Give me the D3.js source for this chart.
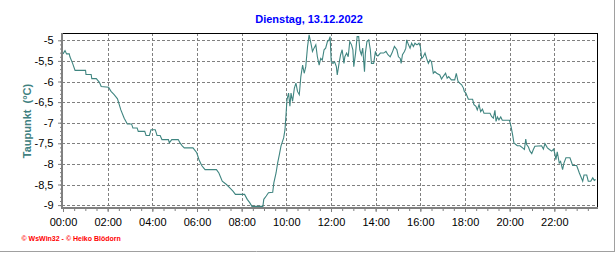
<!DOCTYPE html>
<html><head><meta charset="utf-8">
<script src="https://cdn.jsdelivr.net/npm/d3@7"></script>
<style>
html,body{margin:0;padding:0;background:#fff;}
svg{display:block;}
</style></head>
<body>
<svg id="c" width="616" height="253"></svg>
<script>
const title = "Dienstag, 13.12.2022";
const yLabel = "Taupunkt  (°C)";
const footer = "© WsWin32 - © Heiko Blödorn";
const xTickHours = [0,2,4,6,8,10,12,14,16,18,20,22];
const xTickLabels = ["00:00","02:00","04:00","06:00","08:00","10:00","12:00","14:00","16:00","18:00","20:00","22:00"];
const yTickValues = [-9,-8.5,-8,-7.5,-7,-6.5,-6,-5.5,-5];
const yTickLabels = ["-9","-8,5","-8","-7,5","-7","-6,5","-6","-5,5","-5"];
const hours = [0.00,0.09,0.16,0.28,0.31,0.43,0.54,1.01,1.03,1.26,1.29,1.49,1.63,1.71,2.04,2.15,2.29,2.44,2.59,2.74,2.88,3.07,3.13,3.32,3.37,3.66,3.72,3.87,3.94,4.13,4.21,4.35,4.43,4.72,4.76,4.87,5.16,5.24,5.34,5.43,5.82,5.99,6.09,6.21,6.36,6.87,6.98,7.13,7.32,7.47,7.61,7.72,8.13,8.25,8.36,8.46,8.95,8.99,9.10,9.20,9.39,9.44,9.54,9.61,9.69,9.76,9.88,9.94,9.99,10.03,10.10,10.16,10.21,10.28,10.36,10.43,10.50,10.58,10.65,10.73,10.80,10.87,10.95,11.02,11.10,11.17,11.24,11.32,11.39,11.47,11.54,11.61,11.69,11.76,11.84,11.91,11.96,12.01,12.09,12.16,12.24,12.28,12.36,12.43,12.50,12.58,12.62,12.70,12.77,12.84,12.92,12.98,13.02,13.10,13.17,13.24,13.29,13.36,13.42,13.50,13.54,13.61,13.69,13.76,13.81,13.91,13.99,14.03,14.10,14.21,14.36,14.46,14.55,14.65,14.73,14.84,14.95,15.02,15.10,15.14,15.20,15.29,15.35,15.39,15.47,15.54,15.61,15.69,15.76,15.85,15.94,16.00,16.06,16.13,16.21,16.28,16.36,16.43,16.50,16.58,16.65,16.73,16.87,16.95,17.02,17.13,17.20,17.27,17.39,17.54,17.61,17.69,17.76,17.85,17.93,17.97,18.04,18.15,18.34,18.40,18.49,18.55,18.63,18.70,18.78,18.85,19.12,19.19,19.27,19.34,19.39,19.45,19.52,19.60,19.67,19.99,20.06,20.13,20.19,20.34,20.46,20.58,20.66,20.72,20.76,20.84,20.91,20.99,21.06,21.13,21.43,21.51,21.58,21.69,21.78,21.88,21.97,22.03,22.07,22.13,22.22,22.28,22.37,22.43,22.52,22.70,22.82,23.00,23.12,23.18,23.27,23.33,23.45,23.52,23.63,23.72,23.79,23.85];
const dewpoint = [-5.33,-5.25,-5.33,-5.33,-5.40,-5.56,-5.73,-5.73,-5.83,-5.83,-5.93,-5.93,-6.02,-6.12,-6.14,-6.24,-6.32,-6.42,-6.69,-6.89,-7.03,-7.03,-7.13,-7.13,-7.21,-7.21,-7.31,-7.31,-7.17,-7.17,-7.31,-7.31,-7.41,-7.41,-7.49,-7.41,-7.41,-7.49,-7.56,-7.61,-7.61,-7.73,-7.90,-8.04,-8.14,-8.14,-8.22,-8.42,-8.50,-8.58,-8.66,-8.74,-8.74,-8.86,-8.94,-9.03,-9.03,-8.86,-8.78,-8.70,-8.69,-8.46,-8.22,-7.98,-7.77,-7.57,-7.37,-7.17,-6.77,-6.44,-6.28,-6.60,-6.28,-6.48,-6.16,-6.04,-6.24,-6.32,-5.88,-5.60,-5.80,-5.64,-5.15,-4.87,-5.07,-5.27,-5.19,-5.11,-5.40,-5.60,-5.44,-5.48,-5.23,-5.19,-5.03,-4.99,-4.91,-5.52,-5.56,-5.52,-5.64,-5.84,-5.56,-5.35,-5.23,-5.56,-5.40,-5.31,-5.40,-5.03,-5.11,-5.23,-5.64,-5.31,-4.91,-4.91,-5.23,-5.35,-5.19,-5.76,-5.31,-5.03,-4.99,-5.23,-5.56,-5.56,-5.27,-5.35,-5.38,-5.31,-5.31,-5.27,-5.35,-5.40,-5.31,-5.15,-5.23,-5.40,-5.44,-5.56,-5.35,-5.27,-5.19,-4.99,-5.11,-5.19,-5.07,-5.15,-5.07,-5.11,-5.07,-5.15,-5.44,-5.40,-5.31,-5.44,-5.56,-5.48,-5.52,-5.80,-5.76,-5.80,-5.84,-5.94,-5.88,-5.80,-5.92,-5.88,-5.96,-5.96,-5.80,-6.00,-6.04,-6.08,-6.16,-6.24,-6.28,-6.43,-6.43,-6.56,-6.60,-6.69,-6.56,-6.73,-6.67,-6.77,-6.77,-6.85,-6.89,-6.70,-6.97,-6.86,-6.93,-6.86,-6.94,-6.94,-7.09,-7.29,-7.49,-7.56,-7.56,-7.61,-7.65,-7.40,-7.53,-7.59,-7.69,-7.75,-7.65,-7.57,-7.56,-7.64,-7.51,-7.61,-7.65,-7.69,-7.64,-7.77,-7.90,-7.71,-7.98,-7.94,-8.14,-7.98,-7.85,-7.85,-8.04,-8.04,-8.22,-8.30,-8.42,-8.27,-8.27,-8.42,-8.42,-8.34,-8.40,-8.38];

const svg = d3.select("#c");
const font = "'Liberation Sans', Arial, sans-serif";
const L = 62, R = 597, T = 33, B = 208;
const x = d3.scaleLinear().domain([0, 24]).range([63, 599]);
const y = d3.scaleLinear().domain([-9, -5]).range([205.1, 40.3]);
const gridCol = "#808080", axisCol = "#808080", lineCol = "#3f8580";

// outer frame edges
svg.append("line").attr("x1",0).attr("x2",615).attr("y1",251.5).attr("y2",251.5).attr("stroke","#a0a0a0");
svg.append("line").attr("x1",614.5).attr("x2",614.5).attr("y1",0).attr("y2",252).attr("stroke","#a0a0a0");

// grid
const g = svg.append("g");
g.selectAll("line.h").data(yTickValues).join("line")
  .attr("x1", L).attr("x2", R)
  .attr("y1", d => Math.round(y(d)) + 0.5).attr("y2", d => Math.round(y(d)) + 0.5)
  .attr("stroke", gridCol).attr("stroke-dasharray", "3,2");
g.selectAll("line.v").data(xTickHours.slice(1)).join("line")
  .attr("x1", d => Math.round(x(d)) + 0.5).attr("x2", d => Math.round(x(d)) + 0.5)
  .attr("y1", T).attr("y2", B)
  .attr("stroke", gridCol).attr("stroke-dasharray", "3,2");

// data line
svg.append("defs").append("clipPath").attr("id","clip")
  .append("rect").attr("x", L).attr("y", T).attr("width", R - L).attr("height", B - T);
const pts = hours.map((h, i) => [h, dewpoint[i]]);
svg.append("path").datum(pts)
  .attr("clip-path","url(#clip)")
  .attr("d", d3.line().x(d => x(d[0])).y(d => y(d[1])))
  .attr("fill","none").attr("stroke", lineCol).attr("stroke-width", 1.1);

// frame top & right
svg.append("line").attr("x1", L).attr("x2", R + 0.5).attr("y1", T + 0.5).attr("y2", T + 0.5).attr("stroke", "#000");
svg.append("line").attr("x1", R + 0.5).attr("x2", R + 0.5).attr("y1", T).attr("y2", B).attr("stroke", "#000");

// axes
function styleAxis(sel) {
  sel.select(".domain").remove();
  sel.selectAll(".tick line").attr("stroke", axisCol);
  sel.selectAll("text").attr("font-family", font).attr("font-size", "11px").attr("fill", "#000");
}
const xMinor = d3.range(0, 24, 0.5);
svg.append("g").attr("transform", `translate(0,${B})`)
  .call(d3.axisBottom(x).tickValues(xMinor).tickSize(3).tickFormat(""))
  .call(styleAxis);
svg.append("g").attr("transform", `translate(0,${B})`)
  .call(d3.axisBottom(x).tickValues(xTickHours).tickSize(4).tickPadding(6)
    .tickFormat((d, i) => xTickLabels[i]))
  .call(styleAxis);

const yMinor = d3.range(-9, -4.95, 0.1);
svg.append("g").attr("transform", `translate(${L},0)`)
  .call(d3.axisLeft(y).tickValues(yMinor).tickSize(2).tickFormat(""))
  .call(styleAxis);
svg.append("g").attr("transform", `translate(${L},0)`)
  .call(d3.axisLeft(y).tickValues(yTickValues).tickSize(4).tickPadding(4.5)
    .tickFormat((d, i) => yTickLabels[i]))
  .call(styleAxis);

svg.append("line").attr("x1", L).attr("x2", R + 1).attr("y1", B).attr("y2", B)
  .attr("stroke", axisCol).attr("stroke-width", 2);
svg.append("line").attr("x1", L).attr("x2", L).attr("y1", T).attr("y2", B + 1)
  .attr("stroke", axisCol).attr("stroke-width", 2);

// texts
svg.append("text").attr("x", 309).attr("y", 22.5).attr("text-anchor","middle")
  .attr("font-family", font).attr("font-size","11px").attr("font-weight","bold")
  .attr("fill","#0000ff").text(title);
svg.append("text").attr("transform","translate(31,121) rotate(-90)").attr("text-anchor","middle")
  .attr("font-family", font).attr("font-size","11px").attr("font-weight","bold")
  .attr("fill","#408080").attr("xml:space","preserve").style("white-space","pre").text(yLabel);
svg.append("text").attr("x", 21.5).attr("y", 240.5)
  .attr("font-family", font).attr("font-size","7px").attr("font-weight","bold")
  .attr("fill","#ff0000").text(footer);
</script>
</body></html>
